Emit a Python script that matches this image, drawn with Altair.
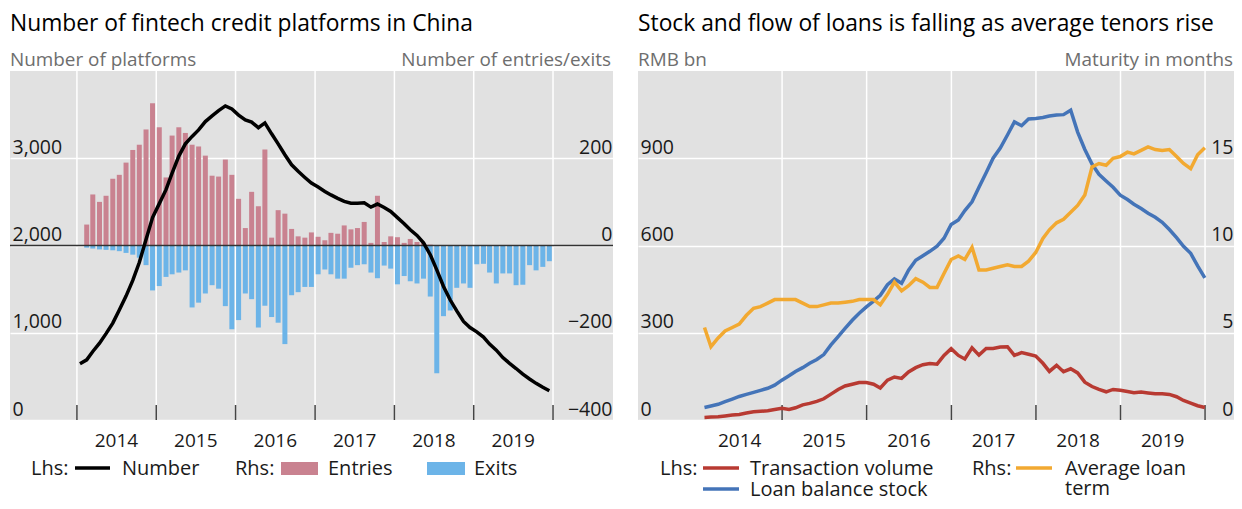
import altair as alt
import pandas as pd

FONT = "Open Sans"
PINK = "#c98290"
SKY = "#6cb4e8"
RED = "#b83a32"
BLUE = "#4474b8"
GOLD = "#f2a931"
BG = "#e1e1e1"
TXT = "#1a1a1a"

# ---------------- data ----------------
year_labels = ["2014", "2015", "2016", "2017", "2018", "2019"]

# Left panel: number of platforms (lhs), monthly Jan 2014 - Dec 2019
platforms = [645, 690, 785, 880, 990, 1110, 1260, 1420, 1600, 1805, 2070, 2320,
             2480, 2640, 2830, 3025, 3165, 3250, 3325, 3420, 3485, 3545, 3600, 3565,
             3495, 3440, 3415, 3350, 3405, 3280, 3165, 3040, 2925, 2850, 2780, 2715,
             2670, 2620, 2580, 2540, 2505, 2485, 2485, 2490, 2440, 2475, 2435, 2390,
             2320, 2250, 2180, 2115, 2030, 1895, 1720, 1530, 1375, 1250, 1130, 1060,
             1010, 950, 870, 800, 715, 650, 590, 525, 470, 420, 375, 335]

# Entries / exits (rhs), monthly Feb 2014 - Dec 2019
entries = [48, 117, 100, 114, 153, 162, 190, 219, 231, 266, 326,
           271, 156, 252, 271, 258, 231, 227, 206, 160, 158, 197, 162,
           107, 40, 123, 90, 220, 18, 81, 73, 38, 21, 18, 30,
           20, 12, 29, 27, 46, 37, 40, 54, 6, 114, 8, 21,
           19, 6, 15, 8, 6, 2, 0, 0, 0, 0, 0, 0,
           0, 0, 0, 0, 0, 0, 0, 0, 0, 0, 0, 0]
exits = [-5, -7, -9, -10, -11, -13, -17, -21, -28, -45, -103,
         -93, -72, -66, -62, -57, -142, -131, -110, -91, -99, -139, -192,
         -171, -110, -123, -188, -138, -164, -177, -226, -114, -107, -95, -95,
         -66, -55, -66, -76, -76, -51, -45, -43, -62, -75, -46, -53,
         -89, -70, -82, -87, -76, -117, -293, -162, -149, -97, -87, -97,
         -43, -42, -62, -87, -64, -64, -91, -90, -45, -57, -49, -36]

# Right panel, monthly (month end) Jan 2014 - Dec 2019
transaction_volume = [9, 10, 11, 14, 17, 19, 24, 28, 30, 32, 36, 40,
                      36, 42, 52, 57, 64, 73, 89, 105, 117, 123, 129, 129,
                      123, 110, 137, 148, 143, 165, 180, 190, 194, 192, 222, 245,
                      222, 210, 248, 223, 246, 246, 251, 252, 222, 232, 226, 220,
                      195, 167, 188, 166, 176, 162, 130, 115, 105, 97, 105, 102,
                      98, 94, 96, 93, 90, 90, 88, 80, 67, 58, 49, 43]
loan_balance = [43, 48, 54, 63, 72, 81, 88, 95, 102, 109, 120, 137,
                152, 167, 180, 195, 208, 225, 258, 287, 315, 343, 367, 389,
                409, 429, 465, 485, 470, 515, 549, 565, 580, 598, 625, 672,
                688, 720, 750, 800, 850, 900, 935, 980, 1025, 1012, 1035, 1037,
                1040, 1045, 1049, 1050, 1065, 990, 930, 880, 845, 822, 800, 773,
                758, 742, 727, 711, 697, 680, 655, 627, 597, 573, 530, 489]
avg_term = [5.3, 4.2, 4.7, 5.1, 5.3, 5.5, 6.0, 6.4, 6.5, 6.7, 6.9, 6.9,
            6.9, 6.9, 6.7, 6.5, 6.5, 6.6, 6.7, 6.7, 6.75, 6.8, 6.9, 6.9,
            6.9, 6.6, 7.2, 7.9, 7.4, 7.7, 8.1, 7.9, 7.6, 7.6, 8.4, 9.2,
            9.4, 9.2, 9.9, 8.6, 8.6, 8.7, 8.8, 8.9, 8.8, 8.8, 9.1, 9.6,
            10.4, 10.9, 11.3, 11.5, 11.9, 12.3, 12.9, 14.5, 14.7, 14.6, 15.0, 15.1,
            15.35, 15.25, 15.45, 15.65, 15.5, 15.45, 15.5, 15.1, 14.7, 14.4, 15.2, 15.6]

# ---------------- tables ----------------
mid_month = (pd.date_range("2014-01-01", periods=72, freq="MS") + pd.Timedelta(days=14)).strftime("%Y-%m-%d")
month_end = (pd.date_range("2014-02-01", periods=72, freq="MS") - pd.Timedelta(days=1)).strftime("%Y-%m-%d")

df_plat = pd.DataFrame({"date": list(mid_month), "v": platforms})
df_bars = pd.DataFrame({"date": list(mid_month[1:]), "entries": entries, "exits": exits})
df_loans = pd.DataFrame({"date": list(month_end), "vol": transaction_volume,
                         "stock": loan_balance, "term": avg_term})
df_years = pd.DataFrame({"label": year_labels,
                         "mid": [f"{y}-07-02" for y in year_labels]})
df_bounds_left = pd.DataFrame({"d": [f"{y}-01-01" for y in range(2014, 2021)]})
df_bounds_right = pd.DataFrame({"d": [f"{y}-01-01" for y in range(2015, 2021)]})
df_zero = pd.DataFrame({"z": [0]})

H = 349
WL = 603
WR = 596
TOP = 63
BOTTOM = 76
LAB = 19.5
R1 = 404   # legend row 1 baseline (relative to plot top)
R2 = 425   # legend row 2 baseline
TITLE = 22.8
SUB = 18.9


def dt(y, m, d):
    return alt.DateTime(year=y, month=m, date=d, utc=True)


xs_left = alt.Scale(type="utc", padding=0, domain=[dt(2013, 2, 27), dt(2020, 10, 3)])
xs_right = alt.Scale(type="utc", padding=0, domain=[dt(2013, 4, 19), dt(2020, 5, 5)])


def axis_l(values, fmt):
    return alt.Axis(orient="left", values=values, format=fmt, grid=True, gridColor="white",
                    gridWidth=1.5, domain=False, ticks=False, labelAlign="left",
                    labelPadding=-2, labelBaseline="alphabetic", labelOffset=-5,
                    labelFlush=False, labelOverlap=False, labelFont=FONT,
                    labelFontSize=LAB, labelColor=TXT, title=None,
                    minExtent=0, maxExtent=0)


def axis_r(values, fmt):
    return alt.Axis(orient="right", values=values, format=fmt, grid=False,
                    domain=False, ticks=False, labelAlign="right",
                    labelPadding=-1, labelBaseline="alphabetic", labelOffset=-5,
                    labelFlush=False, labelOverlap=False, labelFont=FONT,
                    labelFontSize=LAB, labelColor=TXT, title=None,
                    minExtent=0, maxExtent=0)


def text(s, x, y, size=20, color=TXT, align="left"):
    return alt.Chart(pd.DataFrame({"t": [s]})).mark_text(
        align=align, baseline="alphabetic", font=FONT, fontSize=size, color=color
    ).encode(text="t:N", x=alt.value(x), y=alt.value(y))


def leg_line(x1, x2, y, color):
    return alt.Chart(pd.DataFrame({"a": [0]})).mark_rule(
        color=color, strokeWidth=3.5).encode(x=alt.value(x1), x2=alt.value(x2), y=alt.value(y))


def leg_box(x1, x2, y1, y2, color, opacity=1.0):
    return alt.Chart(pd.DataFrame({"a": [0]})).mark_rect(color=color, opacity=opacity).encode(
        x=alt.value(x1), x2=alt.value(x2), y=alt.value(y1), y2=alt.value(y2))


def frame(df_b, xs):
    vgrid = alt.Chart(df_b).mark_rule(color="white", strokeWidth=1.5).encode(
        x=alt.X("d:T", scale=xs, axis=None))
    ticks = alt.Chart(df_b).mark_rule(color="#444", strokeWidth=1.5).encode(
        x=alt.X("d:T", scale=xs, axis=None), y=alt.value(H - 15), y2=alt.value(H))
    years = alt.Chart(df_years).mark_text(
        font=FONT, fontSize=19, color=TXT, baseline="alphabetic").encode(
        x=alt.X("mid:T", scale=xs, axis=None), y=alt.value(376), text="label:N")
    return vgrid, ticks, years


# ---------------- left panel ----------------
vg_l, tk_l, yr_l = frame(df_bounds_left, xs_left)
rax = axis_r([-400, -200, 0, 200], "d")
ys_r = alt.Scale(domain=[-400, 400])
bar_in = alt.Chart(df_bars).mark_bar(size=5, color=PINK).encode(
    x=alt.X("date:T", scale=xs_left, axis=None),
    y=alt.Y("entries:Q", scale=ys_r, axis=rax))
bar_out = alt.Chart(df_bars).mark_bar(size=5, color=SKY).encode(
    x=alt.X("date:T", scale=xs_left, axis=None),
    y=alt.Y("exits:Q", scale=ys_r, axis=rax))
zero = alt.Chart(df_zero).mark_rule(color="#333", strokeWidth=1.5).encode(
    y=alt.Y("z:Q", scale=ys_r, axis=rax))
bars = alt.layer(bar_in, bar_out, zero)
line_plat = alt.Chart(df_plat).mark_line(color="black", strokeWidth=3.5).encode(
    x=alt.X("date:T", scale=xs_left, axis=None),
    y=alt.Y("v:Q", scale=alt.Scale(domain=[0, 4000]), axis=axis_l([0, 1000, 2000, 3000], ",.0f")))

left = alt.layer(
    leg_box(-2, WL, -TOP, H + BOTTOM, "white", 0.0),
    vg_l, tk_l, bars, line_plat, yr_l,
    text("Number of fintech credit platforms in China", 0, -40, size=TITLE, color="#000"),
    text("Number of platforms", 0, -5, size=SUB, color="#6e6e6e"),
    text("Number of entries/exits", WL - 2, -5, size=SUB, color="#6e6e6e", align="right"),
    text("Lhs:", 21, R1), leg_line(65, 100, R1 - 7, "black"), text("Number", 112, R1),
    text("Rhs:", 225, R1), leg_box(271, 308, R1 - 13, R1, PINK), text("Entries", 318, R1),
    leg_box(417, 455, R1 - 13, R1, SKY), text("Exits", 464, R1),
).resolve_scale(y="independent").properties(width=WL, height=H)

# ---------------- right panel ----------------
vg_r, tk_r, yr_r = frame(df_bounds_right, xs_right)
ys_l2 = alt.Scale(domain=[0, 1200])
lax2 = axis_l([0, 300, 600, 900], "d")
stock = alt.Chart(df_loans).mark_line(color=BLUE, strokeWidth=3.5).encode(
    x=alt.X("date:T", scale=xs_right, axis=None),
    y=alt.Y("stock:Q", scale=ys_l2, axis=lax2))
vol = alt.Chart(df_loans).mark_line(color=RED, strokeWidth=3.5).encode(
    x=alt.X("date:T", scale=xs_right, axis=None),
    y=alt.Y("vol:Q", scale=ys_l2, axis=lax2))
term = alt.Chart(df_loans).mark_line(color=GOLD, strokeWidth=3.5).encode(
    x=alt.X("date:T", scale=xs_right, axis=None),
    y=alt.Y("term:Q", scale=alt.Scale(domain=[0, 20]), axis=axis_r([0, 5, 10, 15], "d")))

right = alt.layer(
    leg_box(0, WR, -TOP, H + BOTTOM, "white", 0.0),
    vg_r, tk_r, alt.layer(stock, vol), term, yr_r,
    text("Stock and flow of loans is falling as average tenors rise", 0, -40, size=TITLE, color="#000"),
    text("RMB bn", 0, -5, size=SUB, color="#6e6e6e"),
    text("Maturity in months", WR - 1, -5, size=SUB, color="#6e6e6e", align="right"),
    text("Lhs:", 22, R1), leg_line(65, 101, R1 - 7, RED), text("Transaction volume", 112, R1),
    leg_line(65, 101, R2 - 7, BLUE), text("Loan balance stock", 112, R2),
    text("Rhs:", 334, R1), leg_line(378, 414, R1 - 7, GOLD), text("Average loan", 427, R1),
    text("term", 427, R2 - 1),
).resolve_scale(y="independent").properties(width=WR, height=H)

chart = alt.hconcat(left, right, spacing=25, bounds="flush").properties(
    padding=0,
).configure_view(fill=BG, strokeWidth=0)

chart.save("out.html", embed_options={"renderer": "svg", "actions": False})
